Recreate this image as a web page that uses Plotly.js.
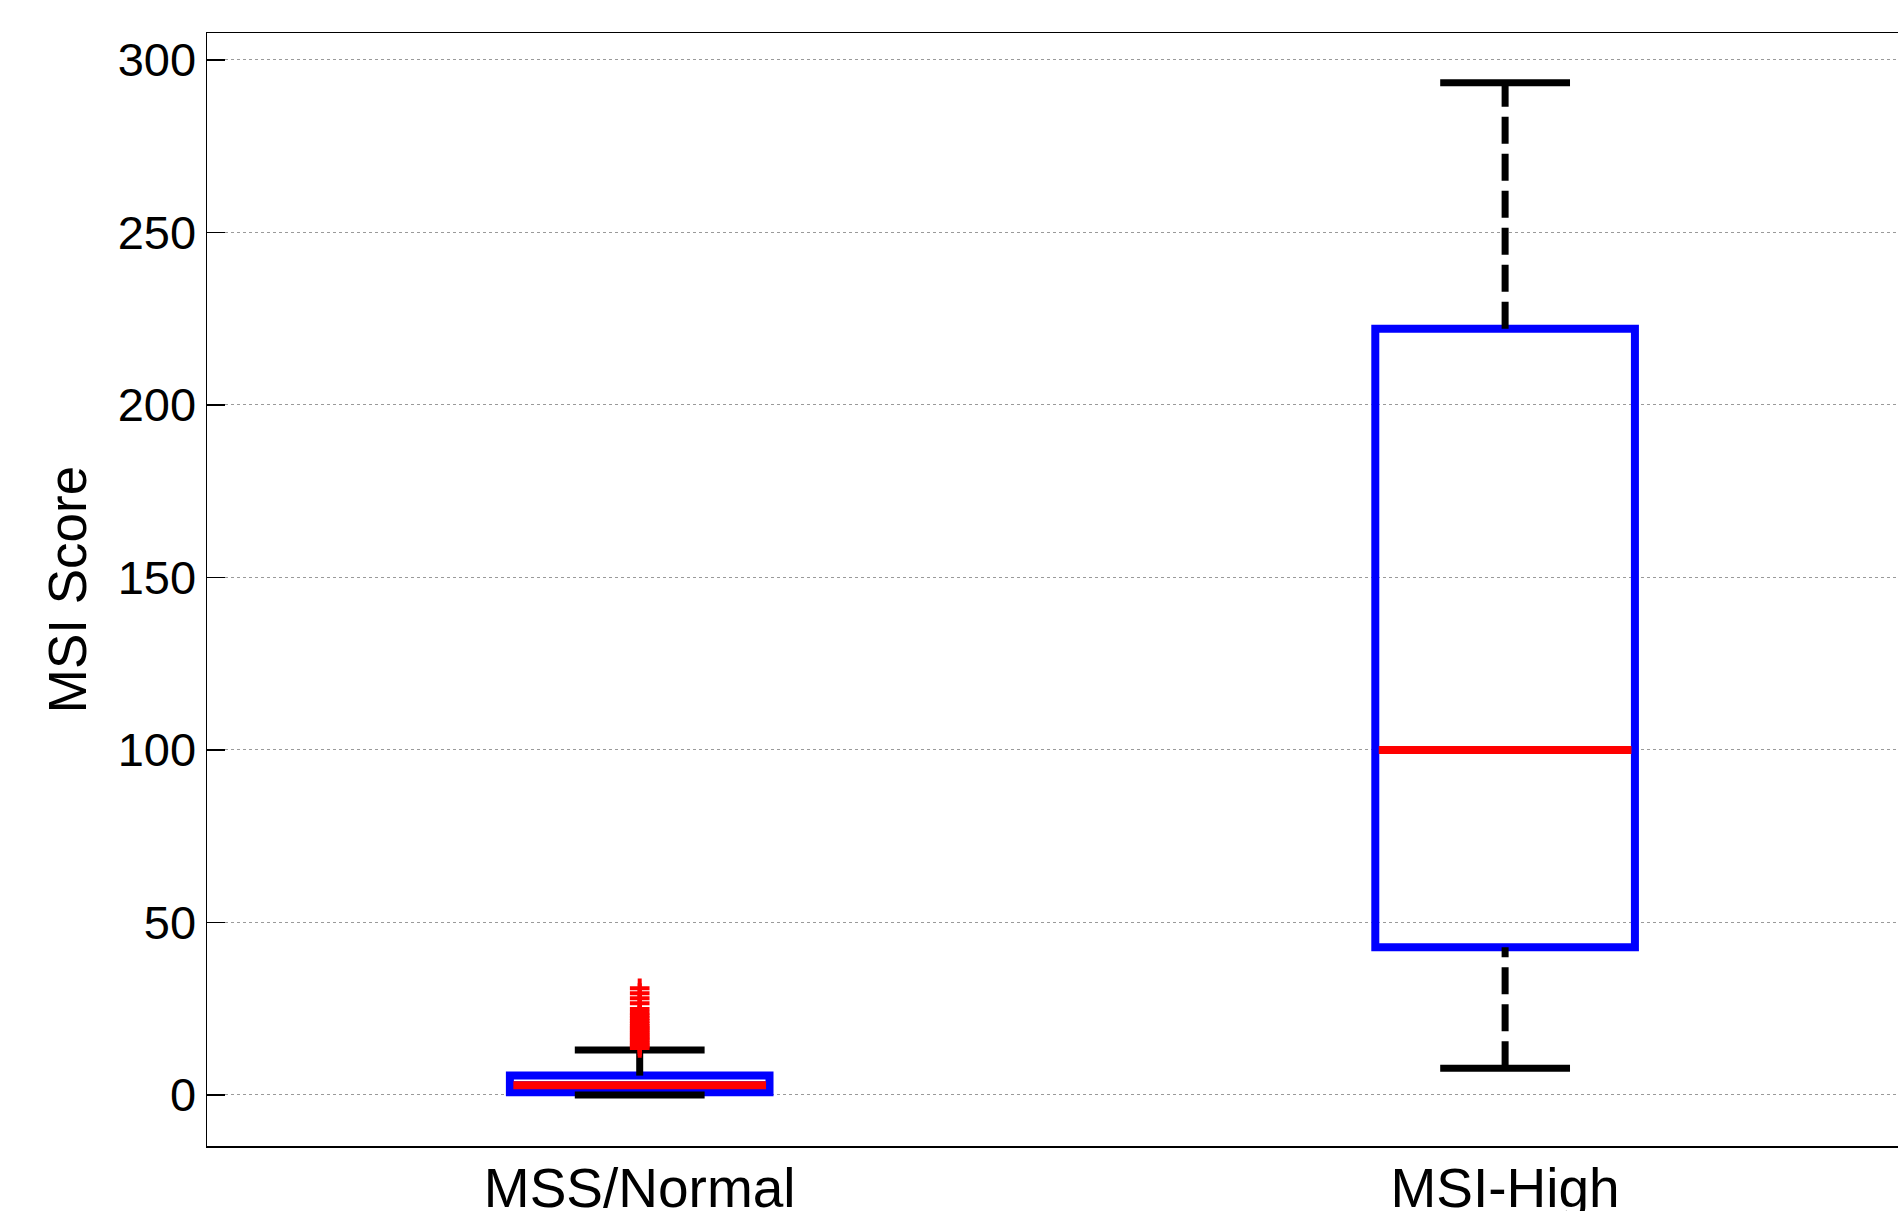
<!DOCTYPE html>
<html>
<head>
<meta charset="utf-8">
<script src="https://cdn.plot.ly/plotly-3.0.1.min.js"></script>
<style>
  html, body { margin: 0; padding: 0; background: #ffffff; }
  #chart { width: 1898px; height: 1211px; }
</style>
</head>
<body>
<div id="chart"></div>
<script>
// ---- data ----
const categories   = ['MSS/Normal', 'MSI-High'];
const positions    = [1, 2];
const lowerWhisker = [0, 7.7];
const q1Values     = [0.8, 42.8];
const medianValues = [2.8, 100];
const q3Values     = [5.6, 222.1];
const upperWhisker = [13.0, 293.4];
const mssOutliers  = [13.6, 14.1, 14.7, 15.2, 15.9, 16.4, 17.0, 17.6, 18.2, 18.8,
                      19.4, 20.0, 20.7, 21.4, 22.2, 23.0, 23.8, 24.9, 26.6, 28.0,
                      29.5, 30.9];
const yTickValues  = [0, 50, 100, 150, 200, 250, 300];

// ---- style constants ----
const FONT = 'Liberation Sans, Arial, Helvetica, sans-serif';
const BOX_WIDTH = 0.3;
const BOX_LINE_W = 8;
const WHISKER_W = 7;

const traces = [];

// boxes (blue outline); fences equal quartiles so whiskers are drawn separately
traces.push({
  type: 'box',
  x: positions,
  q1: q1Values,
  median: medianValues,
  q3: q3Values,
  lowerfence: q1Values,
  upperfence: q3Values,
  width: BOX_WIDTH,
  whiskerwidth: 0,
  boxpoints: false,
  fillcolor: 'rgba(0,0,0,0)',
  line: { color: '#0000ff', width: BOX_LINE_W },
  hoverinfo: 'skip',
  showlegend: false
});

// whiskers (dashed black), caps (solid black), medians (red)
positions.forEach(function (p, i) {
  traces.push({
    type: 'scatter', mode: 'lines',
    x: [p, p], y: [q3Values[i], upperWhisker[i]],
    line: { color: '#000000', width: WHISKER_W, dash: '27px,10px' },
    hoverinfo: 'skip', showlegend: false
  });
  traces.push({
    type: 'scatter', mode: 'lines',
    x: [p, p], y: [lowerWhisker[i], q1Values[i]],
    line: { color: '#000000', width: WHISKER_W, dash: '27px,10px' },
    hoverinfo: 'skip', showlegend: false
  });
  traces.push({
    type: 'scatter', mode: 'lines',
    x: [p - BOX_WIDTH / 4, p + BOX_WIDTH / 4], y: [upperWhisker[i], upperWhisker[i]],
    line: { color: '#000000', width: WHISKER_W },
    hoverinfo: 'skip', showlegend: false
  });
  traces.push({
    type: 'scatter', mode: 'lines',
    x: [p - BOX_WIDTH / 4, p + BOX_WIDTH / 4], y: [lowerWhisker[i], lowerWhisker[i]],
    line: { color: '#000000', width: WHISKER_W },
    hoverinfo: 'skip', showlegend: false
  });
  traces.push({
    type: 'scatter', mode: 'lines',
    x: [p - BOX_WIDTH / 2 + 0.004, p + BOX_WIDTH / 2 - 0.004], y: [medianValues[i], medianValues[i]],
    line: { color: '#ff0000', width: BOX_LINE_W },
    hoverinfo: 'skip', showlegend: false
  });
});

// outliers
traces.push({
  type: 'scatter', mode: 'markers',
  x: mssOutliers.map(function () { return positions[0]; }),
  y: mssOutliers,
  marker: { symbol: 'cross-thin', size: 14, line: { color: '#ff0000', width: 4 } },
  hoverinfo: 'skip', showlegend: false
});

const layout = {
  width: 1898,
  height: 1211,
  paper_bgcolor: '#ffffff',
  plot_bgcolor: '#ffffff',
  margin: { l: 207, r: 0, t: 33, b: 65, pad: 0 },
  font: { family: FONT, color: '#000000' },
  showlegend: false,
  xaxis: {
    range: [0.5, 2.454],
    tickmode: 'array',
    tickvals: positions,
    ticktext: categories,
    ticks: '',
    ticklabelstandoff: -7,
    showgrid: false,
    zeroline: false,
    showline: true,
    mirror: true,
    linecolor: '#000000',
    linewidth: 1.5,
    tickfont: { family: FONT, size: 55, color: '#000000' },
    fixedrange: true
  },
  yaxis: {
    range: [-14.8, 307.8],
    tickmode: 'array',
    tickvals: yTickValues,
    ticks: 'inside',
    ticklen: 18,
    tickwidth: 1.5,
    tickcolor: '#000000',
    showgrid: true,
    gridcolor: '#9a9a9a',
    griddash: 'dot',
    gridwidth: 1,
    zeroline: false,
    showline: true,
    mirror: false,
    linecolor: '#000000',
    linewidth: 1.5,
    tickfont: { family: FONT, size: 47, color: '#000000' },
    title: { text: 'MSI Score', font: { family: FONT, size: 53, color: '#000000' }, standoff: 14 },
    fixedrange: true
  }
};

Plotly.newPlot('chart', traces, layout, { displayModeBar: false, staticPlot: true });
</script>
</body>
</html>
